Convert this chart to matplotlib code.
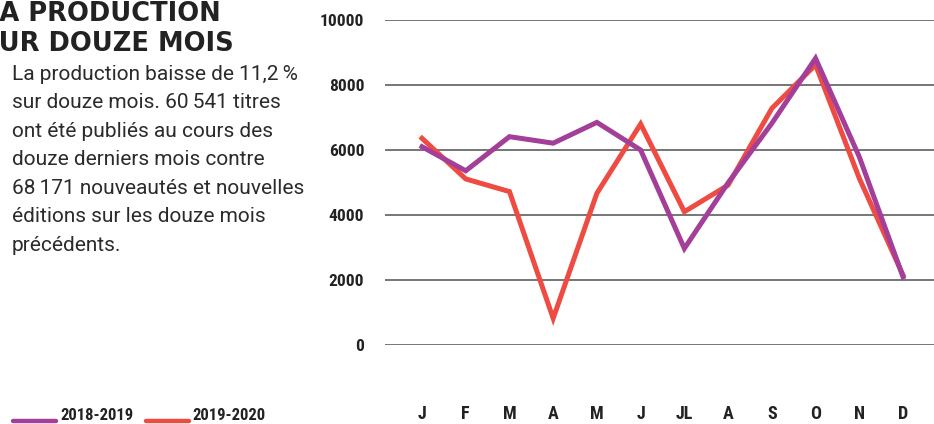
import matplotlib
matplotlib.use("Agg")
import matplotlib.pyplot as plt
from matplotlib.lines import Line2D
from matplotlib import font_manager

months = ["J", "F", "M", "A", "M", "J", "JL", "A", "S", "O", "N", "D"]
prod_2018_2019 = [6100, 5360, 6410, 6210, 6850, 6000, 2970, 4990, 6820, 8820, 5790, 2100]
prod_2019_2020 = [6360, 5110, 4720, 820, 4670, 6800, 4100, 4920, 7280, 8620, 5130, 2150]
yticks = [0, 2000, 4000, 6000, 8000, 10000]
series_names = ["2018-2019", "2019-2020"]

PURPLE = "#a33f98"
RED = "#ee4b43"
DARK = "#222222"

# narrow bold face for the axis labels
names = {f.name for f in font_manager.fontManager.ttflist}
narrow_kw = dict(fontfamily="DejaVu Sans", fontstretch="condensed")
for cand in ["Liberation Sans Narrow", "Roboto Condensed", "Open Sans Condensed"]:
    if cand in names:
        narrow_kw = dict(fontfamily=cand)
        break

W, H = 934, 424
fig = plt.figure(figsize=(W / 100, H / 100), dpi=100)

# axes placed so 0..10000 sits between y=345 and y=20 px, J at x=422, D at x=903
ax = fig.add_axes([385 / W, (H - 345) / H, (W - 385) / W, 325 / H])
step = (903 - 422) / 11
ax.set_xlim(-(422 - 385) / step, 11 + (W - 903) / step)
ax.set_ylim(0, 10000)

x = list(range(len(months)))
ax.plot(x, prod_2019_2020, color=RED, lw=3.6, solid_joinstyle="miter", zorder=3)
ax.plot(x, prod_2018_2019, color=PURPLE, lw=3.6, solid_joinstyle="miter", zorder=4)

for v in yticks:
    ax.axhline(v, color="#6b6b6b", lw=1.3, zorder=1)

for s in ax.spines.values():
    s.set_visible(False)
ax.set_yticks(yticks)
ax.set_yticklabels([str(v) for v in yticks], fontweight="bold", fontsize=12.5,
                   color=DARK, **narrow_kw)
ax.tick_params(axis="y", length=0, pad=15)
ax.set_xticks(x)
ax.set_xticklabels(months, fontweight="bold", fontsize=13, color=DARK, **narrow_kw)
ax.tick_params(axis="x", length=0, pad=43)

# title, clipped at the left edge like the source
renderer = fig.canvas.get_renderer()
def first_letter_width(ch, **kw):
    t = fig.text(0, 0, ch, **kw)
    w = t.get_window_extent(renderer).width
    t.remove()
    return w

title_kw = dict(fontfamily="DejaVu Sans", fontweight="heavy", fontsize=18.5, color=DARK)
wl = first_letter_width("L", **title_kw)
ws = first_letter_width("S", **title_kw)
fig.text(-(wl + 1) / W, 1 - 14 / H, "LA PRODUCTION", va="center", ha="left", **title_kw)
fig.text(-(ws + 1) / W, 1 - 44 / H, "SUR DOUZE MOIS", va="center", ha="left", **title_kw)

body = ["La production baisse de 11,2\u202f%",
        "sur douze mois. 60\u2009541 titres",
        "ont été publiés au cours des",
        "douze derniers mois contre",
        "68\u2009171 nouveautés et nouvelles",
        "éditions sur les douze mois",
        "précédents."]
for i, line in enumerate(body):
    fig.text(12 / W, 1 - (74 + i * 28.6) / H, line, va="center", ha="left",
             fontfamily=["Roboto", "DejaVu Sans"], fontsize=15, color="#2b2b2b")

# legend
for (x0, x1, tx), name, col in zip([(13, 56, 60), (146, 189, 192)], series_names, [PURPLE, RED]):
    fig.add_artist(Line2D([x0 / W, x1 / W], [1 - 421 / H, 1 - 421 / H], color=col, lw=3.2,
                          solid_capstyle="round", transform=fig.transFigure))
    fig.text(tx / W, 1 - 415 / H, name, va="center", ha="left", fontweight="bold",
             fontsize=12, color=DARK, **narrow_kw)

fig.savefig("out.png", dpi=100)
